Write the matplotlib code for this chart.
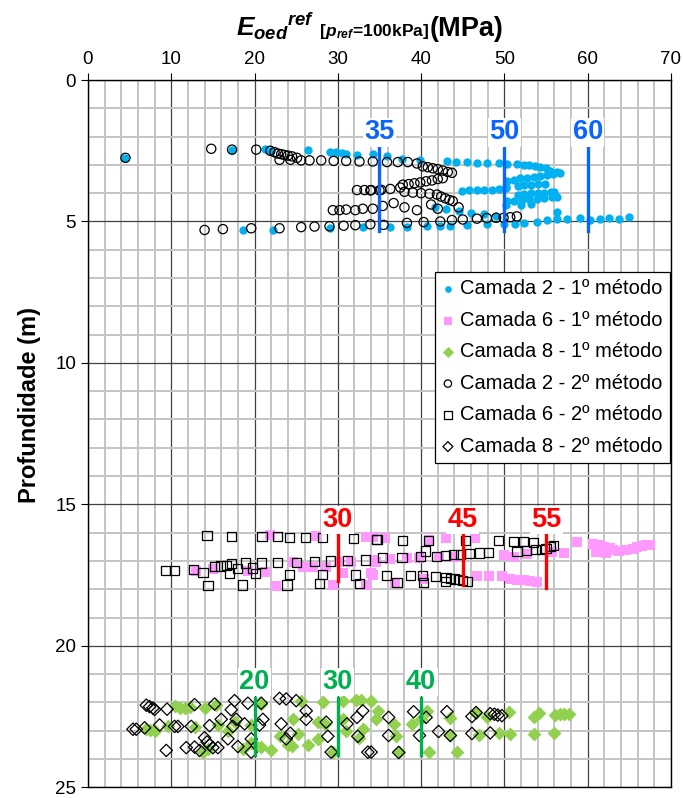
import numpy as np
import matplotlib.pyplot as plt
from matplotlib.ticker import MultipleLocator
from matplotlib.offsetbox import TextArea, HPacker, AnchoredOffsetbox

plt.rcParams['font.family'] = ['Liberation Sans', 'DejaVu Sans']
plt.rcParams['mathtext.fontset'] = 'custom'
plt.rcParams['mathtext.it'] = 'Liberation Sans:italic:bold'
plt.rcParams['mathtext.rm'] = 'Liberation Sans:bold'
plt.rcParams['mathtext.bf'] = 'Liberation Sans:bold'

# --- Camada 2, 1º método (Eoed, profundidade) ---
c2_m1_x = [4.5, 17.3, 21.2, 21.9, 26.4, 29.0, 29.8, 30.5, 31.0, 32.3, 34.2, 35.9, 37.7, 39.9,
           43.1, 44.2, 45.5, 46.7, 47.9, 49.3, 50.3, 51.5, 52.3, 53.0, 53.7, 54.3, 55.0, 55.5, 56.3, 56.7,
           50.3, 51.1, 51.9, 52.7, 53.5, 54.3, 55.1, 55.8,
           50.2, 51.6, 52.4, 53.2, 54.0, 54.9,
           44.9, 45.8, 46.7, 47.6, 48.5, 49.4, 50.2,
           51.6, 52.4, 53.2, 54.0, 54.8, 55.6, 56.0,
           50.3, 51.2, 52.1, 53.0, 53.9, 54.8, 55.7, 56.3,
           41.7, 43.0, 44.5, 46.0, 47.5, 49.0, 50.2, 52.0, 53.2,
           18.6, 22.2, 29.0, 33.0, 36.3, 38.3, 40.7, 42.3, 43.5, 45.5, 47.9, 49.9, 51.3, 52.3,
           53.9, 55.1, 56.3, 56.3, 57.5, 59.1, 60.3, 61.5, 62.5, 63.7, 64.9]
c2_m1_y = [2.75, 2.46, 2.43, 2.52, 2.46, 2.55, 2.55, 2.57, 2.60, 2.66, 2.62, 2.69, 2.78, 2.81,
           2.87, 2.89, 2.90, 2.93, 2.93, 2.95, 2.98, 2.98, 3.00, 3.02, 3.05, 3.08, 3.12, 3.20, 3.25, 3.28,
           3.56, 3.52, 3.48, 3.45, 3.42, 3.38, 3.35, 3.32,
           3.78, 3.75, 3.72, 3.70, 3.68, 3.66,
           3.93, 3.90, 3.90, 3.88, 3.87, 3.85, 3.83,
           4.05, 4.03, 4.01, 4.00, 3.98, 3.97, 3.97,
           4.28, 4.26, 4.24, 4.22, 4.20, 4.18, 4.15, 4.12,
           4.50, 4.55, 4.62, 4.70, 4.75, 4.80, 4.40, 4.40, 4.38,
           5.30, 5.30, 5.22, 5.20, 5.20, 5.20, 5.17, 5.15, 5.15, 5.13, 5.10, 5.10, 5.08, 5.05,
           5.02, 4.95, 4.92, 4.68, 4.92, 4.87, 4.95, 4.92, 4.87, 4.90, 4.85]

# --- Camada 6, 1º método ---
c6_m1_x = [13.0, 15.0, 19.2, 21.2, 21.8, 22.6, 24.6, 25.8, 27.4, 27.0, 28.6, 29.4, 30.2, 30.6,
           31.6, 33.4, 33.4, 34.0, 34.6, 34.2, 35.7, 34.3, 36.3, 34.2, 36.9, 38.3, 39.7, 40.9,
           42.1, 40.3, 43.0, 44.0, 46.5, 46.7, 48.2, 49.7, 49.9, 50.7, 51.5, 52.3, 53.1, 53.9,
           51.1, 52.7, 55.7, 57.1, 58.7, 60.6, 61.3, 62.0, 62.7, 61.0, 62.2, 63.0, 63.8, 64.6,
           65.4, 65.9, 66.5, 67.0, 67.5]
c6_m1_y = [17.35, 17.30, 17.35, 17.40, 16.07, 17.88, 17.03, 17.20, 16.13, 17.20, 17.20, 17.85, 17.03, 17.42,
           17.05, 16.15, 17.85, 17.44, 17.03, 16.15, 16.20, 16.95, 16.93, 17.50, 17.79, 16.90, 16.90, 16.25,
           16.85, 17.65, 16.20, 16.85, 16.20, 17.52, 17.55, 17.55, 16.80, 17.63, 17.66, 17.68, 17.70, 17.73,
           16.85, 16.76, 16.68, 16.72, 16.33, 16.40, 16.45, 16.50, 16.55, 16.70, 16.72, 16.60, 16.65, 16.62,
           16.58, 16.52, 16.48, 16.45, 16.42]

# --- Camada 8, 1º método ---
c8_m1_x = [7.0, 7.5, 8.0, 10.4, 11.0, 11.6, 12.3, 9.6, 12.8, 14.0, 15.4, 15.6, 16.8, 13.8, 14.4,
           17.6, 18.6, 19.6, 19.6, 20.2, 20.8, 22.0, 20.8, 23.0, 24.0, 24.5, 25.2, 25.6, 24.6,
           26.4, 27.6, 27.6, 28.2, 28.4, 29.4, 30.6, 30.6, 31.0, 32.2, 32.8, 33.0, 32.6, 34.6,
           34.0, 34.8, 36.7, 37.0, 37.3, 38.9, 40.0, 40.7, 41.0, 43.5, 43.5, 44.3, 46.6, 46.9,
           47.9, 49.4, 50.5, 50.7, 53.5, 54.1, 53.5, 56.1, 56.0, 56.7, 57.2, 57.7]
c8_m1_y = [22.95, 22.98, 23.00, 22.12, 22.20, 22.20, 22.15, 22.85, 22.88, 22.20, 22.08, 22.80, 23.00, 23.76, 23.65,
           22.70, 23.65, 22.80, 23.43, 23.56, 23.58, 23.70, 22.06, 23.20, 23.50, 23.55, 23.13, 21.94, 22.60,
           23.50, 23.29, 22.70, 22.00, 22.75, 23.76, 21.94, 22.60, 23.00, 21.90, 21.92, 22.95, 23.25, 22.60,
           21.94, 22.30, 22.76, 23.20, 23.76, 22.76, 22.60, 22.30, 23.76, 22.57, 23.17, 23.77, 22.36, 23.17,
           22.53, 23.07, 22.33, 23.13, 22.50, 22.36, 23.13, 22.46, 23.08, 22.40, 22.40, 22.42]

# --- Camada 2, 2º método ---
c2_m2_x = [4.5, 14.8, 17.3, 20.2, 21.9, 22.4, 22.8, 23.2, 23.6, 24.0, 24.5, 25.1,
           23.0, 24.3, 25.6, 26.6, 28.0, 29.5, 31.0, 32.6, 34.2, 35.9, 37.2, 38.4, 39.5,
           40.2, 40.8, 41.4, 42.0, 42.6, 43.2, 43.7,
           37.8, 38.5, 39.2, 39.9, 40.6, 41.3, 42.0, 42.6,
           32.3, 33.2, 34.0, 35.0,
           33.9, 35.2, 36.3, 37.5, 38.0, 39.0, 40.0, 41.0, 41.9, 42.4, 42.9, 43.4, 43.8,
           29.4, 30.2, 31.0, 32.1, 33.0, 34.2, 35.4, 36.7, 38.0, 39.5, 41.2, 42.0, 44.5,
           14.0, 16.2, 19.6, 23.0, 25.6, 27.2, 29.0, 30.7, 32.1, 33.9, 35.5, 38.3, 40.3,
           42.3, 43.7, 45.0, 46.7, 47.9, 49.0, 49.9, 50.7, 51.5]
c2_m2_y = [2.75, 2.43, 2.46, 2.46, 2.50, 2.55, 2.60, 2.62, 2.65, 2.67, 2.70, 2.75,
           2.82, 2.82, 2.84, 2.84, 2.84, 2.86, 2.86, 2.88, 2.88, 2.90, 2.90, 2.90, 2.95,
           3.05, 3.08, 3.12, 3.15, 3.20, 3.25, 3.28,
           3.70, 3.68, 3.65, 3.62, 3.58, 3.55, 3.50, 3.47,
           3.89, 3.89, 3.89, 3.90,
           3.90, 3.88, 3.85, 3.80, 3.95, 3.98, 4.00, 4.02, 4.05, 4.12, 4.18, 4.24, 4.28,
           4.60, 4.60, 4.58, 4.60, 4.55, 4.55, 4.45, 4.35, 4.50, 4.60, 4.40, 4.55, 4.50,
           5.30, 5.27, 5.24, 5.24, 5.20, 5.18, 5.17, 5.15, 5.13, 5.10, 5.12, 5.05, 5.02,
           5.00, 4.95, 4.93, 4.90, 4.88, 4.87, 4.87, 4.85, 4.82]

# --- Camada 6, 2º método ---
c6_m2_x = [14.3, 17.2, 20.9, 22.8, 24.2, 26.1, 28.2, 31.9, 34.6,
           9.3, 10.4, 12.7, 13.8, 15.2, 15.9, 16.6, 17.2, 17.0, 18.0, 18.9, 19.8, 20.1, 20.8,
           22.8, 25.0, 27.2, 29.1, 31.2, 33.3,
           14.4, 18.6, 24.2, 23.9, 28.2, 27.8, 32.1, 32.6,
           34.7, 37.8, 40.9, 45.3, 49.3, 51.1, 52.3, 53.5, 54.5, 55.0, 55.5, 55.9,
           35.4, 37.7, 39.9, 40.5, 41.8, 42.9, 43.9, 44.7, 45.8, 47.0, 48.1, 51.5, 52.7, 53.7,
           35.8, 37.1, 38.7, 40.2, 40.3, 41.7, 42.9, 43.0, 43.5, 44.0, 44.5, 45.0, 45.6]
c6_m2_y = [16.10, 16.13, 16.13, 16.15, 16.17, 16.17, 16.18, 16.20, 16.23,
           17.35, 17.33, 17.30, 17.40, 17.20, 17.18, 17.15, 17.10, 17.45, 17.27, 17.07, 17.25, 17.45, 17.07,
           17.05, 17.05, 17.02, 17.00, 16.99, 16.97,
           17.88, 17.85, 17.47, 17.85, 17.47, 17.80, 17.50, 17.80,
           16.25, 16.27, 16.27, 16.28, 16.28, 16.30, 16.32, 16.35, 16.60, 16.55, 16.50, 16.45,
           16.89, 16.89, 16.85, 16.65, 16.83, 16.80, 16.77, 16.76, 16.75, 16.72, 16.70, 16.67, 16.64, 16.60,
           17.52, 17.76, 17.52, 17.52, 17.76, 17.55, 17.73, 17.58, 17.62, 17.64, 17.67, 17.70, 17.73]

# --- Camada 8, 2º método ---
c8_m2_x = [7.0, 7.4, 7.8, 8.0, 5.4, 5.8, 6.8, 8.6, 9.5, 9.4, 10.8, 10.4, 11.8, 12.4, 12.8,
           12.8, 13.4, 14.0, 14.3, 14.6, 15.0, 14.6, 15.2, 16.0, 15.6, 17.2, 17.6, 17.4, 16.8,
           18.0, 18.8, 17.8, 19.2, 19.6, 19.6, 20.8, 21.0, 20.6, 23.0, 23.8, 25.0, 23.2, 23.8,
           24.3, 26.2, 26.2, 28.6, 28.8, 29.2, 31.1, 32.3, 33.0, 32.4, 33.6,
           34.0, 36.1, 36.1, 37.3, 39.1, 39.8, 40.6, 42.1, 43.1, 43.5, 46.1, 46.1, 46.6,
           48.3, 48.8, 49.2, 49.7, 48.3]
c8_m2_y = [22.10, 22.15, 22.20, 22.25, 22.95, 22.95, 22.90, 22.80, 22.24, 23.70, 22.85, 22.85, 23.60, 22.85, 22.08,
           23.58, 23.70, 23.25, 23.40, 23.50, 23.60, 22.82, 22.06, 22.60, 23.60, 22.26, 21.94, 22.85, 23.29,
           23.56, 22.76, 22.60, 22.03, 23.76, 23.29, 22.03, 22.60, 22.80, 21.86, 21.88, 21.94, 22.76, 23.29,
           23.09, 22.30, 22.60, 22.70, 23.20, 23.76, 22.76, 22.53, 22.30, 23.20, 23.76,
           23.76, 22.53, 23.17, 23.77, 22.33, 23.17, 22.53, 23.03, 22.33, 23.17, 22.50, 23.10, 22.36,
           22.40, 22.42, 22.45, 22.47, 23.08]

# --- valores de referência por camada ---
ref_c2 = [35, 50, 60]
ref_c6 = [30, 45, 55]
ref_c8 = [20, 30, 40]
ref_c2_base = [5.34, 5.34, 5.34]
ref_c6_base = [17.7, 17.85, 17.95]
ref_c8_base = [23.85, 23.85, 23.85]

fig = plt.figure(figsize=(6.83, 7.98), dpi=100)
ax = fig.add_axes([0.1288, 0.0135, 0.8536, 0.8862])

ax.scatter(c2_m1_x, c2_m1_y, s=36, marker='o', color='#00B0F0', linewidths=0,
           label='Camada 2 - 1º método', zorder=3)
ax.scatter(c6_m1_x, c6_m1_y, s=50, marker='s', color='#FF99FF', linewidths=0,
           label='Camada 6 - 1º método', zorder=3)
ax.scatter(c8_m1_x, c8_m1_y, s=50, marker='D', color='#92D050', linewidths=0,
           label='Camada 8 - 1º método', zorder=3)
ax.scatter(c2_m2_x, c2_m2_y, s=44, marker='o', facecolors='none', edgecolors='black',
           linewidths=0.9, label='Camada 2 - 2º método', zorder=4)
ax.scatter(c6_m2_x, c6_m2_y, s=44, marker='s', facecolors='none', edgecolors='black',
           linewidths=0.9, label='Camada 6 - 2º método', zorder=4)
ax.scatter(c8_m2_x, c8_m2_y, s=40, marker='D', facecolors='none', edgecolors='black',
           linewidths=0.9, label='Camada 8 - 2º método', zorder=4)

# linhas verticais com o valor adoptado
bbox = dict(facecolor='white', edgecolor='none', pad=1.0)
for v, yb in zip(ref_c2, ref_c2_base):
    ax.plot([v, v], [2.38, yb], color='#0A64FF', lw=2.4, zorder=5)
    ax.text(v, 1.85, str(v), color='#0A64FF', fontsize=19.5, fontweight='bold',
            ha='center', va='center', bbox=bbox, zorder=6)
for v, yb in zip(ref_c6, ref_c6_base):
    ax.plot([v, v], [16.05, yb], color='#FF0000', lw=2.4, zorder=5)
    ax.text(v, 15.55, str(v), color='#FF0000', fontsize=19.5, fontweight='bold',
            ha='center', va='center', bbox=bbox, zorder=6)
for v, yb in zip(ref_c8, ref_c8_base):
    ax.plot([v, v], [21.85, yb], color='#00B050', lw=2.4, zorder=5)
    ax.text(v, 21.28, str(v), color='#00B050', fontsize=19.5, fontweight='bold',
            ha='center', va='center', bbox=bbox, zorder=6)

ax.set_xlim(0, 70)
ax.set_ylim(25, 0)
ax.xaxis.set_major_locator(MultipleLocator(10))
ax.xaxis.set_minor_locator(MultipleLocator(2))
ax.yaxis.set_major_locator(MultipleLocator(5))
ax.yaxis.set_minor_locator(MultipleLocator(1))
ax.grid(which='minor', color='#c4c4c4', lw=1.4, zorder=0)
ax.grid(which='major', color='#404040', lw=0.9, zorder=1)
ax.set_axisbelow(True)
ax.xaxis.tick_top()
ax.tick_params(which='major', direction='out', length=5, labelsize=13.5)
ax.tick_params(which='minor', length=0)
for s in ax.spines.values():
    s.set_color('black')
    s.set_linewidth(1.0)

ax.set_ylabel('Profundidade (m)', fontsize=17, fontweight='bold')
ax.yaxis.set_label_coords(-0.08, 0.54)

# título do eixo x com tamanhos mistos
parts = [TextArea(r'$E_{oed}{}^{ref}$', textprops=dict(fontsize=19)),
         TextArea(r' [$p_{ref}$=100kPa] ', textprops=dict(fontsize=12.5, fontweight='bold')),
         TextArea('(MPa)', textprops=dict(fontsize=19.5, fontweight='bold'))]
box = HPacker(children=parts, align='baseline', pad=0, sep=0)
anch = AnchoredOffsetbox(loc='center', child=box, frameon=False,
                         bbox_to_anchor=(0.542, 0.967), bbox_transform=fig.transFigure)
fig.add_artist(anch)

leg = ax.legend(loc='upper right', bbox_to_anchor=(0.9975, 0.728), fontsize=14.5,
                frameon=True, fancybox=False, edgecolor='black', framealpha=1,
                handlelength=0.6, handletextpad=0.3, borderpad=0.35, labelspacing=0.62,
                borderaxespad=0, scatterpoints=1, markerscale=0.8)
leg.get_frame().set_linewidth(0.9)
leg.set_zorder(10)

fig.savefig('out.png', dpi=100)
